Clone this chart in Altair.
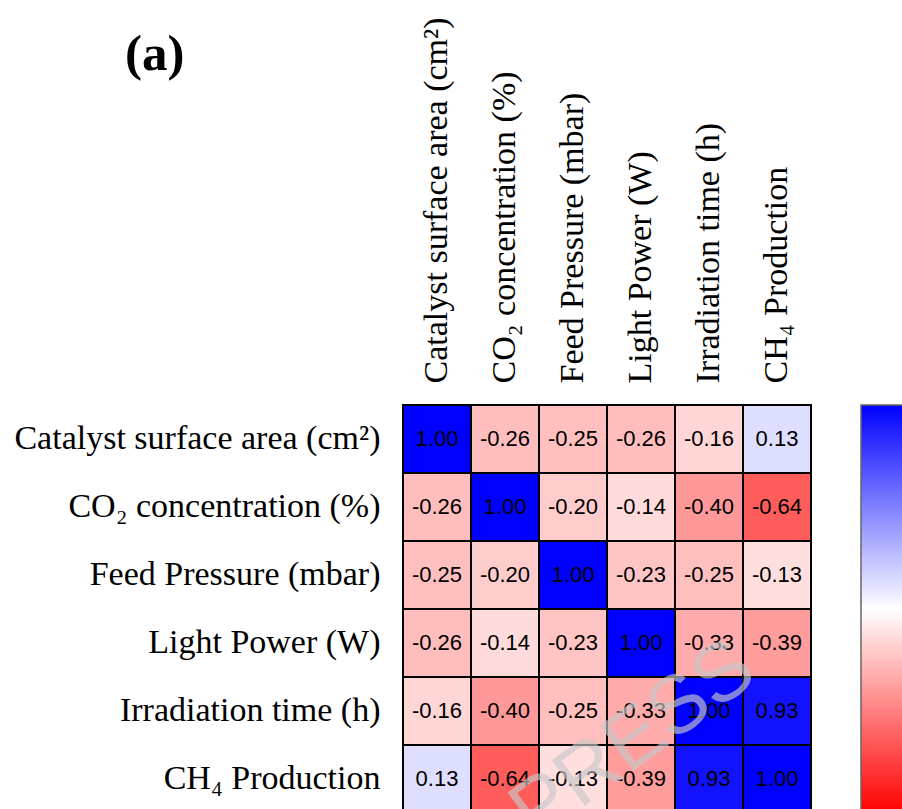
import altair as alt
import pandas as pd

labels = [
    "Catalyst surface area (cm²)",
    "CO₂ concentration (%)",
    "Feed Pressure (mbar)",
    "Light Power (W)",
    "Irradiation time (h)",
    "CH₄ Production",
]

row_catalyst = [1.00, -0.26, -0.25, -0.26, -0.16, 0.13]
row_co2 = [-0.26, 1.00, -0.20, -0.14, -0.40, -0.64]
row_pressure = [-0.25, -0.20, 1.00, -0.23, -0.25, -0.13]
row_light = [-0.26, -0.14, -0.23, 1.00, -0.33, -0.39]
row_time = [-0.16, -0.40, -0.25, -0.33, 1.00, 0.93]
row_ch4 = [0.13, -0.64, -0.13, -0.39, 0.93, 1.00]

matrix = [row_catalyst, row_co2, row_pressure, row_light, row_time, row_ch4]

records = []
for i, rname in enumerate(labels):
    for j, cname in enumerate(labels):
        v = matrix[i][j]
        records.append({"row": rname, "col": cname, "value": v, "label": f"{v:.2f}"})
df = pd.DataFrame(records)

serif = "Liberation Serif"
sans = "Liberation Sans"

x_enc = alt.X(
    "col:N",
    sort=labels,
    scale=alt.Scale(paddingInner=0, paddingOuter=0),
    axis=alt.Axis(
        orient="top",
        title=None,
        labelAngle=270,
        labelFont=serif,
        labelFontSize=34,
        labelColor="black",
        labelPadding=22,
        labelLimit=0,
        ticks=False,
        domain=False,
    ),
)
y_enc = alt.Y(
    "row:N",
    sort=labels,
    scale=alt.Scale(paddingInner=0, paddingOuter=0),
    axis=alt.Axis(
        orient="left",
        title=None,
        labelFont=serif,
        labelFontSize=34,
        labelColor="black",
        labelPadding=23,
        labelLimit=0,
        ticks=False,
        domain=False,
    ),
)

base = alt.Chart(df)

rect = base.mark_rect(stroke="black", strokeWidth=2).encode(
    x=x_enc,
    y=y_enc,
    color=alt.Color(
        "value:Q",
        scale=alt.Scale(
            domain=[-1, 0, 1],
            range=["#ff0000", "#ffffff", "#0000ff"],
            interpolate="rgb",
        ),
        legend=alt.Legend(
            orient="none",
            legendX=458,
            legendY=0,
            direction="vertical",
            title=None,
            gradientLength=408,
            gradientThickness=60,
            gradientStrokeColor="#666666",
            gradientStrokeWidth=1.5,
            labelExpr="''",
        ),
    ),
)

text = base.mark_text(font=sans, fontSize=22, color="black").encode(
    x=x_enc,
    y=y_enc,
    text=alt.Text("label:N"),
)

watermark = alt.Chart(pd.DataFrame({"t": ["PRESS"]})).mark_text(
    font=sans,
    fontSize=82,
    angle=324,
    align="center",
    baseline="middle",
    color="#c8c8c8",
    opacity=0.65,
).encode(
    text="t:N",
    x=alt.value(230),
    y=alt.value(335),
)

chart = (
    alt.layer(rect, text, watermark)
    .properties(
        width=408,
        height=408,
        autosize=alt.AutoSizeParams(type="none"),
        padding={"left": 403, "top": 405, "right": 91, "bottom": 0},
        title=alt.Title(
            "(a)",
            anchor="start",
            frame="group",
            orient="top",
            font=serif,
            fontSize=51,
            fontWeight="bold",
            color="black",
            dx=-278,
            dy=68,
        ),
    )
    .configure_view(stroke="black", strokeWidth=3)
    .configure(background="white")
)

chart.save("out.html", embed_options={"renderer": "svg", "actions": False})
